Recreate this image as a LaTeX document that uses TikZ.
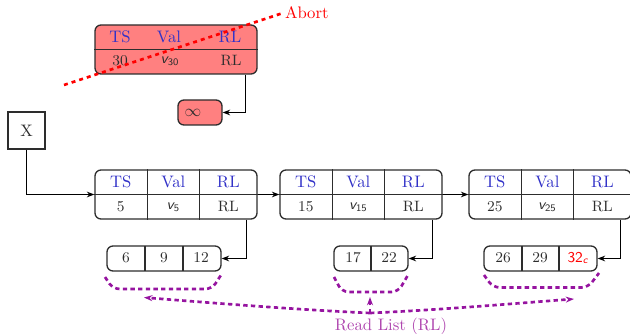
\documentclass[tikz,border=0pt]{standalone}
\usetikzlibrary{arrows.meta,calc}
\definecolor{hdblue}{RGB}{50,50,200}
\definecolor{lnc}{RGB}{45,45,45}
\definecolor{rlline}{RGB}{150,20,160}
\definecolor{rltext}{RGB}{175,70,175}
\definecolor{boxred}{RGB}{255,128,128}
\tikzset{
  rec/.style={draw=lnc, line width=0.8pt, rounded corners=3.6pt, inner sep=0pt},
  bigrec/.style={rec, minimum width=162*0.6pt, minimum height=49*0.6pt},
  hd/.style={text=hdblue, font=\normalsize, inner sep=0pt},
  bd/.style={text=lnc, font=\small, inner sep=0pt},
  cellline/.style={draw=lnc, line width=0.8pt},
  conn/.style={draw=black, line width=0.6pt},
  tip/.style={-{Stealth[length=4.5pt,width=3.4pt]}},
  rld/.style={draw=rlline, line width=1.6pt, dash pattern=on 2.6pt off 2pt},
  rltip/.style={-{Stealth[length=5pt,width=3.6pt]}},
}
\newcommand{\sv}[1]{\textsf{\slshape v\textsubscript{\upshape #1}}}
\begin{document}
\begin{tikzpicture}[x=0.6pt,y=-0.6pt]
\path[use as bounding box] (0,0) rectangle (630,334);

% aborted record
\node[bigrec, fill=boxred] (b0) at (176,49.5) {};
\draw[cellline] (b0.west) -- (b0.east);
\node[hd] (b0ts) at (120,37) {TS};
\node[hd] (b0val) at (169,37) {Val};
\node[hd] (b0rl) at (230,37) {RL};
\node[bd] (b0n) at (120,61) {30};
\node[bd] (b0v) at (170,61) {\sv{30}};
\node[bd] (b0r) at (231,61) {RL};

\node[rec, fill=boxred, minimum width=44*0.6pt, minimum height=25*0.6pt] (inf) at (200,112.5) {};
\node[text=lnc, inner sep=0pt] (inftx) at (193,112.5) {$\infty$};
\draw[conn,tip] ($(b0.south east)+(-12,0)$) |- (inf.east);

% X
\node[draw=lnc, line width=0.8pt, minimum width=37*0.6pt, minimum height=37*0.6pt, inner sep=0pt, text=lnc] (X) at (26.5,130.5) {X};

% main records
\foreach \n/\cx in {b1/176, b2/361, b3/550}{
  \node[bigrec] (\n) at (\cx,194.5) {};
  \draw[cellline] (\n.west) -- (\n.east);
  \draw[cellline] ($(\n.north west)+(53,0)$) -- ($(\n.south west)+(53,0)$);
  \draw[cellline] ($(\n.north west)+(105,0)$) -- ($(\n.south west)+(105,0)$);
  \node[hd] (\n ts) at ($(\n.west)+(26.5,-13)$) {TS};
  \node[hd] (\n val) at ($(\n.west)+(79,-13)$) {Val};
  \node[hd] (\n rl) at ($(\n.west)+(134,-13)$) {RL};
  \node[bd] (\n rln) at ($(\n.west)+(134,12.5)$) {RL};
}
\node[bd] (b1n) at ($(b1.west)+(26.5,12.5)$) {5};
\node[bd] (b1v) at ($(b1.west)+(79,12.5)$) {\sv{5}};
\node[bd] (b2n) at ($(b2.west)+(26.5,12.5)$) {15};
\node[bd] (b2v) at ($(b2.west)+(79,12.5)$) {\sv{15}};
\node[bd] (b3n) at ($(b3.west)+(26.5,12.5)$) {25};
\node[bd] (b3v) at ($(b3.west)+(79,12.5)$) {\sv{25}};

\draw[conn,tip] (X.south) |- (b1.west);
\draw[conn,tip] (b1.east) -- (b2.west);
\draw[conn,tip] (b2.east) -- (b3.west);

% read lists
\node[rec, minimum width=114*0.6pt, minimum height=25*0.6pt] (rA) at (164,258.5) {};
\draw[cellline] (145,246) -- (145,271);
\draw[cellline] (183,246) -- (183,271);
\node[bd] (rA1) at (126,258) {6};
\node[bd] (rA2) at (164,258) {9};
\node[bd] (rA3) at (201,258) {12};

\node[rec, minimum width=74*0.6pt, minimum height=25*0.6pt] (rB) at (371,258.5) {};
\draw[cellline] (371,246) -- (371,271);
\node[bd] (rB1) at (353,258) {17};
\node[bd] (rB2) at (389,258) {22};

\node[rec, minimum width=113*0.6pt, minimum height=25*0.6pt] (rC) at (540.5,258.5) {};
\draw[cellline] (522,246) -- (522,271);
\draw[cellline] (559,246) -- (559,271);
\node[bd] (rC1) at (503,258) {26};
\node[bd] (rC2) at (540,258) {29};
\node[bd, text=red] (rC3) at (578,258) {\textsf{32\textsubscript{\slshape c}}};

\draw[conn,tip] ($(b1.south east)+(-11,0)$) |- (rA.east);
\draw[conn,tip] ($(b2.south east)+(-10,0)$) |- (rB.east);
\draw[conn,tip] ($(b3.south east)+(-11,0)$) |- (rC.east);

% braces
\draw[rld, rounded corners=4pt] (105,277) -- (113,289) -- (212,289) -- (221,275);
\draw[rld, rounded corners=4pt] (334,277) -- (342,292) -- (398,292) -- (408,275);
\draw[rld, rounded corners=4pt] (484,275) -- (493,287.5) -- (588,287.5) -- (599,273);

% read list label
\node[text=rltext, inner sep=0pt] (rl) at (391,326) {Read List (RL)};
\coordinate (m) at (370,313);
\coordinate (ta) at (144,297.5);
\coordinate (tb) at (370,297);
\coordinate (tc) at (574,299);
\draw[rld, rltip] (m) .. controls (300,310) and (200,302) .. (ta);
\draw[rld, rltip] (m) .. controls (440,310) and (520,303) .. (tc);
\draw[rld, rltip] (m) -- (tb);

% abort
\coordinate (ab1) at (64,85);
\coordinate (ab2) at (283,13);
\draw[red, line width=1.6pt, dash pattern=on 2.4pt off 2.4pt] (ab1) -- (ab2);
\node[text=red, anchor=west, inner sep=1pt] (abort) at (ab2) {Abort};
\end{tikzpicture}
\end{document}
